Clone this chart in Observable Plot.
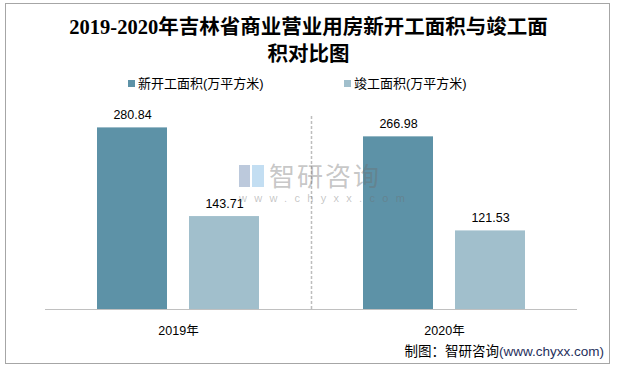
<!DOCTYPE html>
<html>
<head>
<meta charset="utf-8">
<script src="https://cdn.jsdelivr.net/npm/d3@7"></script>
<script src="https://cdn.jsdelivr.net/npm/@observablehq/plot@0.6"></script>
<style>
  html, body { margin: 0; padding: 0; background: #fff; }
  #page { position: relative; width: 617px; height: 369px; overflow: hidden; font-family: "Liberation Sans", "Noto Sans CJK SC", sans-serif; }
  #border { position: absolute; left: 5px; top: 3px; width: 605px; height: 361px; border: 1px solid #a6a6a6; box-sizing: border-box; }
  #chart { position: absolute; left: 0; top: 0; }
  #title { position: absolute; left: 0; width: 617px; top: 14px; text-align: center; font-family: "Liberation Serif", "Noto Sans CJK SC", serif; font-weight: bold; font-size: 20.5px; line-height: 27px; color: #000; }
  .legend { position: absolute; top: 76px; font-size: 13px; line-height: 16px; color: #000; white-space: nowrap; }
  .legend i { display: inline-block; width: 7px; height: 7px; margin-right: 3px; vertical-align: 1px; }
  #footer { position: absolute; right: 13px; top: 343px; font-size: 13.5px; line-height: 18px; color: #000; white-space: nowrap; }
  #footer span { color: #1f2f5c; }
  #wm { position: absolute; left: 237px; top: 160px; color: rgba(110,110,110,0.4); white-space: nowrap; }
  #wm .big { position: absolute; left: 32px; top: 2px; font-size: 26px; line-height: 26px; letter-spacing: 2px; font-family: "Noto Sans CJK SC", sans-serif; }
  #wm .small { position: absolute; left: 2px; top: 32px; font-size: 11px; line-height: 12px; letter-spacing: 7.3px; }
  #wm .l1 { position: absolute; left: 2px; top: 5px; width: 11px; height: 22px; background: rgba(160,178,205,0.7); }
  #wm .l2 { position: absolute; left: 15px; top: 5px; width: 12px; height: 22px; background: rgba(170,208,236,0.7); }
</style>
</head>
<body>
<div id="page">
  <div id="chart"></div>
  <div id="wm"><div class="l1"></div><div class="l2"></div><div class="big">智研咨询</div><div class="small">www.chyxx.com</div></div>
  <div id="border"></div>
  <div id="title">2019-2020年吉林省商业营业用房新开工面积与竣工面<br>积对比图</div>
  <div class="legend" id="leg1" style="left:128px"></div>
  <div class="legend" id="leg2" style="left:344px"></div>
  <div id="footer">制图：智研咨询<span>(www.chyxx.com)</span></div>
</div>
<script>
const years = ["2019年", "2020年"];
const newStarted = [280.84, 266.98];
const completed = [143.71, 121.53];
const seriesNames = ["新开工面积(万平方米)", "竣工面积(万平方米)"];
const seriesColors = ["#5d92a7", "#a1bfcc"];

const newRows = years.map((year, i) => ({year, value: newStarted[i]}));
const compRows = years.map((year, i) => ({year, value: completed[i]}));

document.getElementById("leg1").innerHTML = `<i style="background:${seriesColors[0]}"></i>${seriesNames[0]}`;
document.getElementById("leg2").innerHTML = `<i style="background:${seriesColors[1]}"></i>${seriesNames[1]}`;

const chart = Plot.plot({
  width: 617,
  height: 369,
  marginTop: 115,
  marginBottom: 60,
  marginLeft: 45,
  marginRight: 40,
  x: {domain: years, padding: 0, label: null, tickSize: 0, tickPadding: 17},
  y: {domain: [0, 300], axis: null},
  style: {fontFamily: "'Liberation Sans', 'Noto Sans CJK SC', sans-serif", fontSize: "12.5px", color: "#000", background: "transparent", overflow: "visible"},
  marks: [
    Plot.barY(newRows, {x: "year", y: "value", fill: seriesColors[0], insetLeft: 52, insetRight: 144}),
    Plot.barY(compRows, {x: "year", y: "value", fill: seriesColors[1], insetLeft: 144, insetRight: 52}),
    Plot.text(newRows, {x: "year", y: "value", text: d => d.value.toFixed(2), dx: -46, dy: -13, fill: "#000"}),
    Plot.text(compRows, {x: "year", y: "value", text: d => d.value.toFixed(2), dx: 46, dy: -13, fill: "#000"}),
    Plot.ruleY([0], {stroke: "#c0c0c0", strokeWidth: 1.2}),
    Plot.ruleX(years.slice(1), {x: d => d, y1: 0, y2: 300, dx: -133, stroke: "#bdbdbd", strokeWidth: 1.5, strokeDasharray: "3,2"})
  ]
});
document.getElementById("chart").appendChild(chart);
</script>
</body>
</html>
